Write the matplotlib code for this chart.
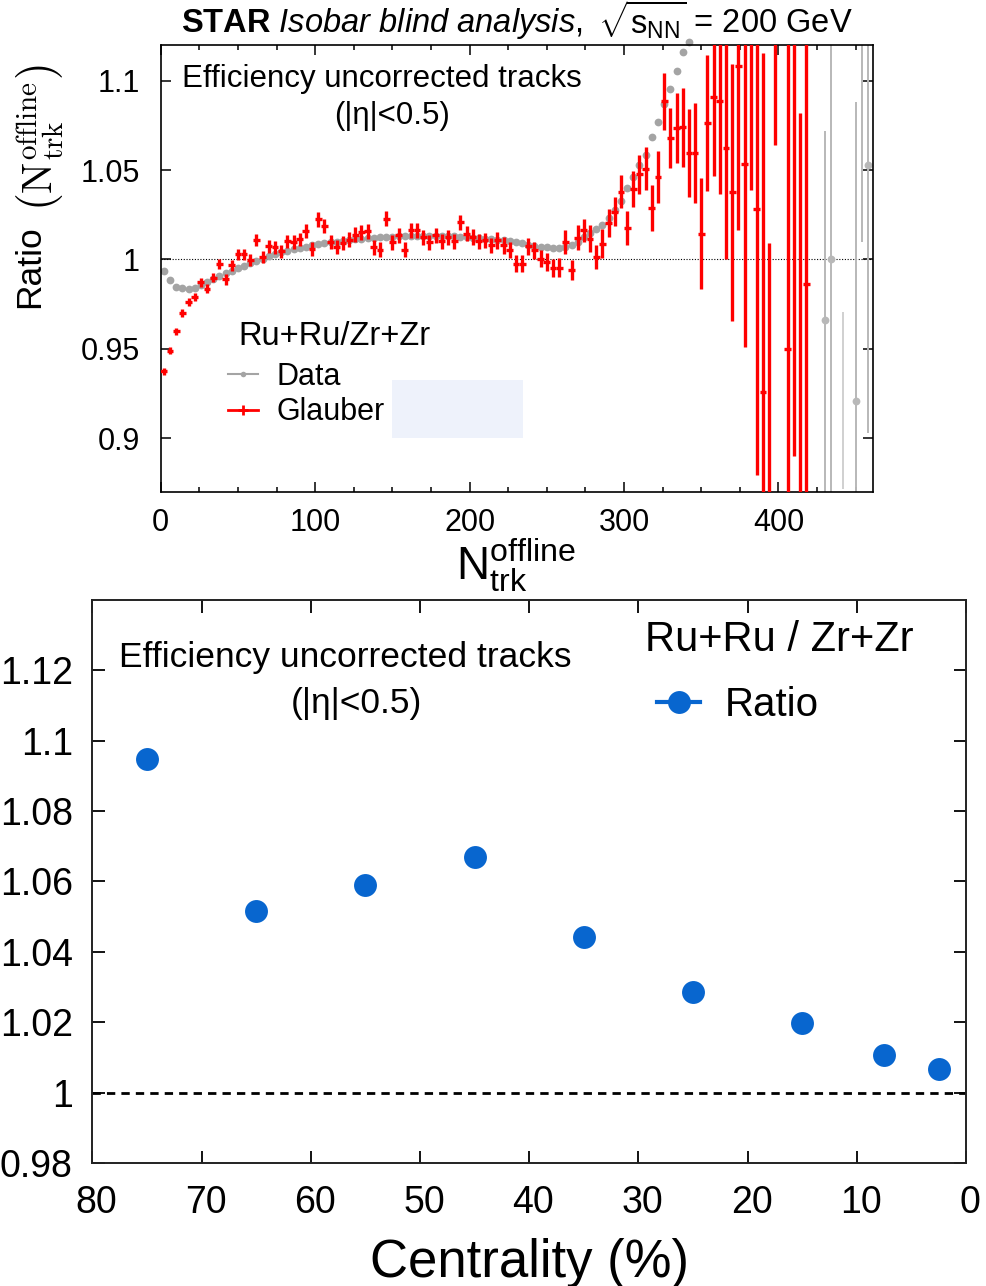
import numpy as np
import matplotlib
matplotlib.use('Agg')
import matplotlib.pyplot as plt
from matplotlib.patches import Rectangle
from matplotlib.lines import Line2D
from matplotlib.transforms import ScaledTranslation

plt.rcParams['font.family'] = ['Liberation Sans', 'DejaVu Sans']
plt.rcParams['mathtext.fontset'] = 'custom'
plt.rcParams['mathtext.rm'] = 'Liberation Sans'
plt.rcParams['mathtext.it'] = 'Liberation Sans:italic'
plt.rcParams['mathtext.bf'] = 'Liberation Sans:bold'
plt.rcParams['mathtext.sf'] = 'Liberation Sans'

# ---------------- data: top panel (ratio vs N_trk^offline) ----------------
nch_data = np.arange(2, 343, 4)          # bin centres of the Data points
data_ratio = [
    0.9935, 0.9885, 0.9848, 0.9838, 0.9836, 0.9842, 0.9858, 0.9875, 0.9893, 0.9908,
    0.9922, 0.9937, 0.9951, 0.9965, 0.9978, 0.9992, 1.0005, 1.0018, 1.0030, 1.0040,
    1.0049, 1.0057, 1.0064, 1.0071, 1.0078, 1.0085, 1.0090, 1.0095, 1.0100, 1.0104,
    1.0108, 1.0112, 1.0116, 1.0119, 1.0122, 1.0124, 1.0126, 1.0128, 1.0130, 1.0131,
    1.0132, 1.0133, 1.0133, 1.0133, 1.0133, 1.0132, 1.0131, 1.0129, 1.0127, 1.0124,
    1.0121, 1.0119, 1.0116, 1.0113, 1.0110, 1.0107, 1.0104, 1.0099, 1.0092, 1.0083,
    1.0076, 1.0070, 1.0067, 1.0066, 1.0066, 1.0070, 1.0080, 1.0100, 1.0123, 1.0146,
    1.0170, 1.0195, 1.0230, 1.0275, 1.0328, 1.0400, 1.0460, 1.0526, 1.0586, 1.0685,
    1.0769, 1.0868, 1.0951, 1.1052, 1.1160, 1.1215,
]
tail_nch = [430, 434, 450, 454, 458]
tail_ratio = [0.966, 1.000, 0.921, 1.200, 1.053]
tail_err = [0.106, 0.250, 0.167, 0.190, 0.150]
faint_nch = [442]
faint_ratio = [0.921]
faint_err = [0.0495]

nch_glauber = np.arange(2, 419, 4)       # bin centres of the Glauber points
glauber_ratio = [
    0.9375, 0.9490, 0.9597, 0.9700, 0.9761, 0.9789, 0.9873, 0.9836, 0.9898, 0.9976,
    0.9888, 0.9966, 1.0028, 1.0028, 0.9998, 1.0110, 1.0013, 1.0073, 1.0069, 1.0046,
    1.0102, 1.0097, 1.0112, 1.0158, 1.0060, 1.0224, 1.0186, 1.0097, 1.0069, 1.0091,
    1.0110, 1.0138, 1.0153, 1.0157, 1.0069, 1.0054, 1.0228, 1.0097, 1.0134, 1.0054,
    1.0162, 1.0162, 1.0125, 1.0097, 1.0134, 1.0102, 1.0125, 1.0101, 1.0209, 1.0144,
    1.0125, 1.0102, 1.0106, 1.0078, 1.0106, 1.0078, 1.0054, 0.9976, 0.9976, 1.0073,
    1.0050, 1.0004, 0.9985, 0.9954, 0.9954, 1.0097, 0.9942, 1.0121, 1.0162, 1.0116,
    1.0013, 1.0088, 1.0203, 1.0268, 1.0380, 1.0176, 1.0393, 1.0476, 1.0508, 1.0287,
    1.0461, 1.0884, 1.0679, 1.0735, 1.0740, 1.0595, 1.0595, 1.0144, 1.0763, 1.0908,
    1.0884, 1.0625, 1.0375, 1.1083, 1.0532, 1.1500, 1.0284, 0.9258, 0.8000, 1.3000,
    np.nan, 0.9500, 1.1500, 0.8000, 0.9860,
]
glauber_err = [
    0.0020, 0.0020, 0.0020, 0.0021, 0.0022, 0.0023, 0.0025, 0.0026, 0.0027, 0.0028,
    0.0029, 0.0030, 0.0031, 0.0032, 0.0033, 0.0034, 0.0035, 0.0036, 0.0036, 0.0037,
    0.0037, 0.0038, 0.0038, 0.0039, 0.0039, 0.0040, 0.0040, 0.0040, 0.0041, 0.0041,
    0.0041, 0.0042, 0.0042, 0.0042, 0.0042, 0.0042, 0.0042, 0.0042, 0.0042, 0.0042,
    0.0042, 0.0042, 0.0042, 0.0042, 0.0042, 0.0042, 0.0042, 0.0042, 0.0042, 0.0042,
    0.0043, 0.0043, 0.0044, 0.0044, 0.0045, 0.0045, 0.0046, 0.0046, 0.0047, 0.0047,
    0.0048, 0.0049, 0.0050, 0.0051, 0.0052, 0.0065, 0.0055, 0.0070, 0.0065, 0.0075,
    0.0068, 0.0080, 0.0080, 0.0080, 0.0093, 0.0096, 0.0100, 0.0110, 0.0120, 0.0130,
    0.0145, 0.0160, 0.0170, 0.0195, 0.0220, 0.0245, 0.0280, 0.0310, 0.0380, 0.0440,
    0.0520, 0.0620, 0.0720, 0.0920, 0.1020, 0.1110, 0.1490, 0.1900, 0.2090, 0.2360,
    np.nan, 0.3000, 0.2600, 0.2820, 0.1500,
]
top_xticks = [0, 100, 200, 300, 400]
top_xticklabels = ['0', '100', '200', '300', '400']
top_yticks = [0.9, 0.95, 1.0, 1.05, 1.1]
top_yticklabels = ['0.9', '0.95', '1', '1.05', '1.1']

# ---------------- data: bottom panel (ratio vs centrality) ----------------
centrality = [75, 65, 55, 45, 35, 25, 15, 7.5, 2.5]
cent_ratio = [1.0949, 1.0516, 1.0590, 1.0670, 1.0442, 1.0285, 1.0199, 1.0108, 1.0066]
bot_xticks = [80, 70, 60, 50, 40, 30, 20, 10, 0]
bot_yticks = [0.98, 1.0, 1.02, 1.04, 1.06, 1.08, 1.10, 1.12]
bot_yticklabels = ['0.98', '1', '1.02', '1.04', '1.06', '1.08', '1.1', '1.12']

GREY = '#a4a4a4'
RED = '#ff0000'
BLUE = '#0866cf'

W, H = 987, 1286
fig = plt.figure(figsize=(W / 100, H / 100), dpi=100)


def rect(l, t, r, b):
    return [l / W, 1 - b / H, (r - l) / W, (b - t) / H]


def fx(x):
    return x / W


def fy(y):
    return 1 - y / H


# ====================== top panel ======================
ax1 = fig.add_axes(rect(160.7, 45, 872.7, 491.7))
ax1.axhline(1.0, color='k', lw=0.8, ls=(0, (1, 1.5)), zorder=1)
ax1.plot(nch_data, data_ratio, 'o', color=GREY, ms=5.6, mec='none', zorder=2,
         clip_on=False)
ax1.errorbar(tail_nch, tail_ratio, yerr=tail_err, fmt='o', color='#b8b8b8',
             ms=5.6, mec='none', elinewidth=1.4, capsize=0, zorder=2)
ax1.errorbar(faint_nch, faint_ratio, yerr=faint_err, fmt='none', ecolor='#c4c4c4',
             elinewidth=1.1, capsize=0, zorder=2)
ax1.errorbar(nch_glauber, glauber_ratio, xerr=2.2, yerr=glauber_err, fmt='none',
             ecolor=RED, elinewidth=2.4, capsize=0, zorder=3)
ax1.set_xlim(0, 461)
ax1.set_ylim(0.87, 1.12)
ax1.set_xticks(top_xticks)
ax1.set_xticklabels(top_xticklabels)
ax1.set_xticks(np.arange(0, 461, 25), minor=True)
ax1.set_yticks(top_yticks)
ax1.set_yticklabels(top_yticklabels)
ax1.tick_params(which='both', direction='in', top=True, right=True,
                labelsize=22, width=1.1)
ax1.tick_params(axis='x', which='major', length=7, pad=12)
ax1.tick_params(axis='y', which='major', length=7, pad=15)
ax1.tick_params(which='minor', length=3.5)
for sp in ax1.spines.values():
    sp.set_linewidth(1.2)

ax1.text(0.31, 0.925, 'Efficiency uncorrected tracks', transform=ax1.transAxes,
         ha='center', va='center', fontsize=22.5)
ax1.text(0.325, 0.842, '(|η|<0.5)', transform=ax1.transAxes,
         ha='center', va='center', fontsize=22.5)

h_data = Line2D([], [], color=GREY, lw=1.5, marker='o', ms=4, mec='none')
h_glau = Line2D([], [], color=RED, lw=2.0, marker='+', ms=7, mew=2)
leg1 = ax1.legend([h_data, h_glau], ['Data', 'Glauber'], loc='center left',
                  bbox_to_anchor=(fx(228), fy(394.5)), bbox_transform=fig.transFigure,
                  frameon=False, fontsize=22, handlelength=0.98,
                  handletextpad=0.62, labelspacing=0.19, borderpad=0,
                  borderaxespad=0)
fig.text(fx(238), fy(337), 'Ru+Ru/Zr+Zr', ha='left', va='center', fontsize=23.5)

fig.add_artist(Rectangle((fx(392), fy(438)), (523 - 392) / W, (438 - 380) / H,
                         transform=fig.transFigure, facecolor='#eef2fb',
                         edgecolor='none', zorder=5))

fig.text(fx(517), fy(20),
         r'$\mathbf{STAR}$ $\mathit{Isobar\ blind\ analysis,}$ $\sqrt{\mathrm{s}_{\mathrm{NN}}}$ = 200 GeV',
         ha='center', va='center', fontsize=23.5)
fig.text(fx(516), fy(565), r'$\mathrm{N}_{\mathrm{trk}}^{\mathrm{offline}}$',
         ha='center', va='center', fontsize=33)
fig.text(fx(30), fy(267), 'Ratio', rotation=90, ha='center', va='center',
         fontsize=25.5)
fig.text(fx(40), fy(138),
         r'$\left(\mathrm{N}_{\mathrm{trk}}^{\mathrm{offline}}\right)$',
         rotation=90, ha='center', va='center', fontsize=30, math_fontfamily='cm')

# ====================== bottom panel ======================
ax2 = fig.add_axes(rect(92.3, 600, 966, 1163))
ax2.axhline(1.0, color='k', lw=2.0, ls=(0, (3, 2.2)), zorder=1)
ax2.plot(centrality, cent_ratio, 'o', color=BLUE, ms=16.5, mec='none', zorder=3)
ax2.set_xlim(80, 0)
ax2.set_ylim(0.98, 1.14)
ax2.set_xticks(bot_xticks)
ax2.set_yticks(bot_yticks)
ax2.set_yticklabels(bot_yticklabels)
ax2.tick_params(which='both', direction='in', top=True, right=True,
                labelsize=27, width=1.3, length=9)
ax2.tick_params(axis='x', pad=16)
ax2.tick_params(axis='y', pad=14)
for lbl in ax2.get_xticklabels():
    lbl.set_transform(lbl.get_transform() + ScaledTranslation(0.04, 0, fig.dpi_scale_trans))
for sp in ax2.spines.values():
    sp.set_linewidth(1.4)
    sp.set_color('#222222')
ax2.set_xlabel('Centrality (%)', fontsize=38, labelpad=12)

ax2.text(0.289, 0.897, 'Efficiency uncorrected tracks', transform=ax2.transAxes,
         ha='center', va='center', fontsize=25.5)
ax2.text(0.302, 0.817, '(|η|<0.5)', transform=ax2.transAxes,
         ha='center', va='center', fontsize=25.5)

h_ratio = Line2D([], [], color=BLUE, lw=3, marker='o', ms=16.5, mec='none')
leg2 = ax2.legend([h_ratio], ['Ratio'], loc='center left',
                  bbox_to_anchor=(fx(657), fy(705)), bbox_transform=fig.transFigure,
                  frameon=False, fontsize=29, handlelength=1.07,
                  handletextpad=0.6, borderpad=0, borderaxespad=0)
fig.text(fx(645), fy(640), 'Ru+Ru / Zr+Zr', ha='left', va='center', fontsize=30)

fig.savefig('out.png', dpi=100)
